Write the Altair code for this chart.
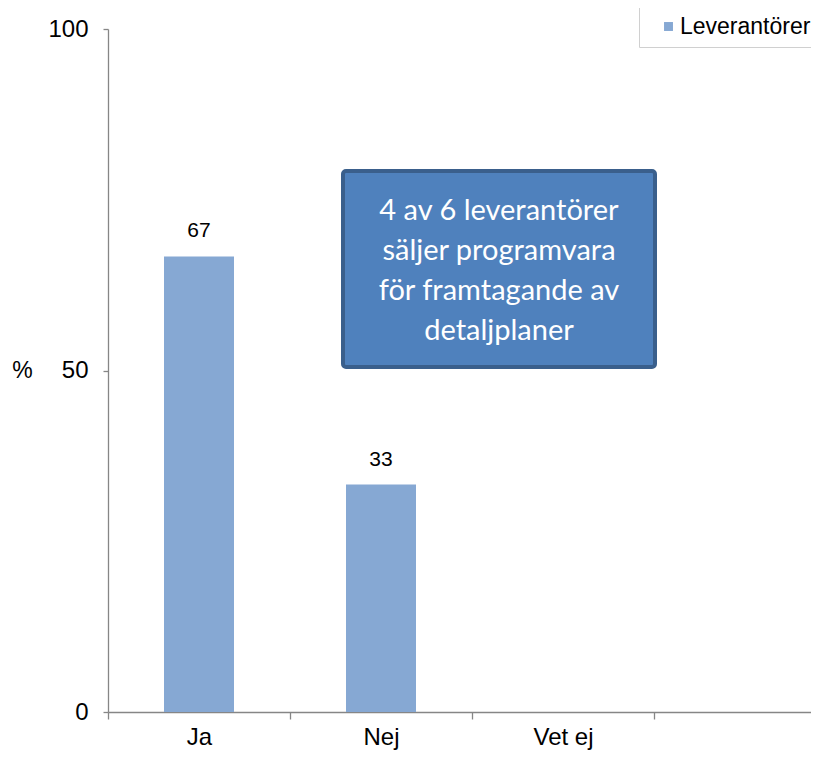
import altair as alt
import pandas as pd

categories = ["Ja", "Nej", "Vet ej", " "]
values = [66.7, 33.3, None, None]
value_labels = ["67", "33", "", ""]
series_name = "Leverantörer"
y_ticks = [0, 50, 100]
note_lines = ["4 av 6 leverantörer", "säljer programvara", "för framtagande av", "detaljplaner"]

df = pd.DataFrame({"cat": categories, "val": values, "lab": value_labels, "series": series_name})

FONT = "Liberation Sans"
AX = "#868686"

x_enc = alt.X("cat:N", sort=categories,
              scale=alt.Scale(domain=categories, range=[0, 728], paddingInner=0, paddingOuter=0),
              axis=alt.Axis(title=None, labelAngle=0, labelFont=FONT, labelFontSize=24, labelColor="black",
                            labelBaseline="alphabetic", labelPadding=25,
                            domainColor=AX, domainWidth=1.3, tickColor=AX, tickWidth=1.3, tickSize=7,
                            tickBand="extent", grid=False))
y_scale = alt.Scale(domain=[0, 100], nice=False)

bars = alt.Chart(df).mark_bar(size=70).encode(
    x=x_enc,
    y=alt.Y("val:Q", scale=y_scale,
            axis=alt.Axis(values=y_ticks, title="%", titleAngle=0, titleX=-86, titleY=341,
                          titleAlign="center", titleBaseline="middle", titleFont=FONT,
                          titleFontSize=23, titleFontWeight="normal", titleColor="black",
                          labelFont=FONT, labelFontSize=24, labelColor="black", labelPadding=15,
                          domainColor=AX, domainWidth=1.3, tickColor=AX, tickWidth=1.3, tickSize=5,
                          grid=False)),
    color=alt.Color("series:N", scale=alt.Scale(range=["#86A8D3"]),
                    legend=alt.Legend(title=None, orient="none", legendX=531, legendY=-22,
                                      fillColor="white", strokeColor="#d0d0d0", padding=8,
                                      symbolType="square", symbolSize=80, symbolStrokeWidth=0,
                                      symbolOffset=10, labelFont=FONT, labelFontSize=23,
                                      labelColor="black", labelOffset=0)),
)

texts = alt.Chart(df).transform_filter("datum.val != null").mark_text(
    baseline="bottom", dy=-15, font=FONT, fontSize=21, color="black"
).encode(x=alt.X("cat:N", sort=categories), y=alt.Y("val:Q", scale=y_scale), text="lab:N")

note_df = pd.DataFrame({"t": [note_lines]})
box = alt.Chart(note_df).mark_rect(fill="#4F81BD", stroke="#3A5F8C", strokeWidth=4, cornerRadius=3).encode(
    x=alt.value(235), x2=alt.value(547), y=alt.value(142), y2=alt.value(338))
note = alt.Chart(note_df).mark_text(font="Lato", fontSize=29, color="white", lineHeight=40,
                                    align="center", baseline="middle").encode(
    x=alt.value(391), y=alt.value(182), text="t")

chart = alt.layer(bars, texts, box, note).properties(
    width=703, height=683,
    autosize=alt.AutoSizeParams(type="none"),
    padding={"left": 100, "top": 21, "right": 0, "bottom": 38},
).configure_view(stroke=None)

chart.save("out.html", embed_options={"renderer": "svg", "actions": False})
